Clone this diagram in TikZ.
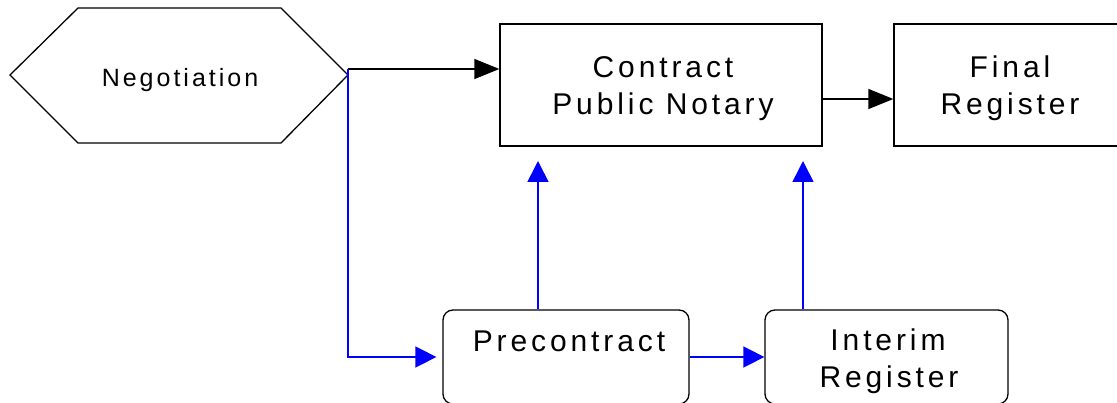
\documentclass[tikz,border=0pt]{standalone}
\usepackage{fontspec}
\newfontfamily\labelfont[LetterSpace=13]{Liberation Sans}
\newfontfamily\hexfont[LetterSpace=12]{Liberation Sans}
\usetikzlibrary{arrows.meta,calc}

\begin{document}
\begin{tikzpicture}[x=1pt,y=-1pt,
  box/.style={draw,line width=1.3pt,inner sep=0pt},
  roundbox/.style={box,rounded corners=10pt},
  txt/.style={anchor=base,inner sep=0pt,font=\labelfont\fontsize{30}{37}\selectfont},
  flow/.style={line width=1.3pt,-{Triangle[length=25pt,width=20pt]}},
  feed/.style={line width=1.6pt,blue,-{Triangle[length=21pt,width=21pt]}},
]
\useasboundingbox (0,0) rectangle (1117,403);

% negotiation hexagon
\draw[line width=1.3pt] (10,75) -- (78,8) -- (281,8) -- (348,75) -- (281,143) -- (78,143) -- cycle;
\node[txt,font=\hexfont\fontsize{25}{30}\selectfont] (neg) at (180,87) {Negotiation};

% boxes
\node[box,minimum width=322pt,minimum height=122pt] (contract) at (661,85) {};
\node[box,minimum width=232pt,minimum height=122pt] (final) at (1010,85) {};
\node[roundbox,minimum width=246pt,minimum height=94pt] (pre) at (566,357) {};
\node[roundbox,minimum width=243pt,minimum height=94pt] (int) at (886.5,357) {};

% labels
\node[txt] (contract1) at (663,78) {Contract};
\node[txt] (contract2) at (663,115) {Public Notary};
\node[txt] (final1) at (1010,78) {Final};
\node[txt] (final2) at (1010,115) {Register};
\node[txt] (pre1) at (569,352) {Precontract};
\node[txt] (int1) at (888,351) {Interim};
\node[txt] (int2) at (889,388) {Register};

% connectors
\coordinate (negOut) at (348,69);
\coordinate (preUp) at (538,161);
\coordinate (intUp) at (803,161);
\draw[flow] (negOut) -- (negOut -| contract.west);
\draw[flow] ($(contract.east)+(0,14)$) -- ($(final.west)+(0,14)$);
\draw[feed,shorten >=6pt] (negOut) |- (pre.west);
\draw[feed] (pre.east) -- (int.west);
\draw[feed] (preUp |- pre.north) -- (preUp);
\draw[feed] (intUp |- int.north) -- (intUp);
\end{tikzpicture}
\end{document}
